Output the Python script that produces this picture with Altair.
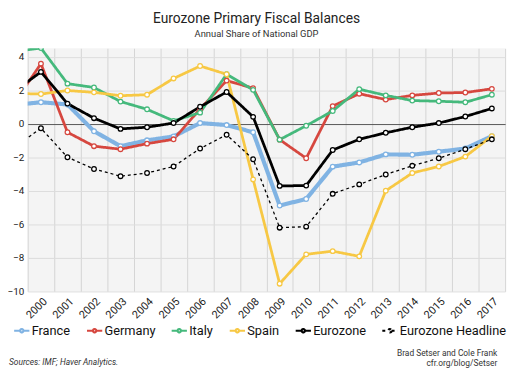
import altair as alt
import pandas as pd

years = list(range(1999, 2018))
series = ["France", "Germany", "Italy", "Spain", "Eurozone", "Eurozone Headline"]
colors = ["#80b3e3", "#d6473f", "#45b97c", "#f7c844", "#000000", "#000000"]
dashes = [[1, 0], [1, 0], [1, 0], [1, 0], [1, 0], [3, 3]]

france = [1.12, 1.28, 1.15, -0.45, -1.34, -0.99, -0.76, 0.04, -0.08, -0.51,
          -4.88, -4.49, -2.56, -2.31, -1.83, -1.85, -1.67, -1.48, -0.74]
germany = [1.24, 3.58, -0.51, -1.34, -1.52, -1.19, -0.93, 0.88, 2.57, 2.12,
           -0.95, -2.06, 1.05, 1.79, 1.44, 1.69, 1.83, 1.86, 2.08]
italy = [4.31, 4.51, 2.39, 2.16, 1.32, 0.86, 0.17, 0.66, 2.95, 2.02,
         -0.95, -0.12, 0.76, 2.06, 1.69, 1.38, 1.34, 1.28, 1.73]
spain = [1.81, 1.77, 1.98, 1.87, 1.67, 1.73, 2.70, 3.44, 2.95, -3.32,
         -9.54, -7.79, -7.60, -7.91, -4.00, -2.94, -2.55, -1.96, -0.74]
eurozone = [1.93, 3.09, 1.20, 0.33, -0.31, -0.21, 0.04, 1.01, 1.89, 0.41,
            -3.71, -3.69, -1.57, -0.93, -0.54, -0.21, 0.04, 0.43, 0.91]
headline = [-1.41, -0.27, -2.00, -2.70, -3.13, -2.94, -2.55, -1.48, -0.66, -2.12,
            -6.20, -6.14, -4.18, -3.62, -3.03, -2.51, -2.06, -1.52, -0.93]

values = [france, germany, italy, spain, eurozone, headline]
rows = []
for name, vals in zip(series, values):
    for y, v in zip(years, vals):
        rows.append({"year": y, "value": v, "series": name})
df = pd.DataFrame(rows)

grid_values = [y + 0.5 for y in range(1999, 2018)] + list(range(2000, 2018))

FONT = "Roboto"

x = alt.X("year:Q",
          scale=alt.Scale(domain=[1999.5, 2017.5], nice=False, zero=False),
          axis=alt.Axis(values=grid_values, title=None, ticks=False, domain=False,
                        labelExpr="datum.value % 1 === 0 ? format(datum.value, 'd') : ''",
                        labelAngle=-45, labelFontSize=11, labelColor="#222",
                        labelOverlap=False, labelPadding=4, labelFont=FONT,
                        gridColor="#d4d4d4",
                        gridOpacity=alt.condition("datum.value % 1 === 0", alt.value(0), alt.value(1))))
y = alt.Y("value:Q",
          scale=alt.Scale(domain=[-10, 4.5], nice=False, zero=False),
          axis=alt.Axis(values=list(range(-10, 5, 2)), title=None, ticks=False, domain=False,
                        labelFontSize=10, labelColor="#222", labelPadding=4, labelFont=FONT,
                        gridColor=alt.condition("datum.value === 0", alt.value("#555555"), alt.value("#dcdcdc"))))

symbol_path = ("M-1,0L-0.22,0M0.22,0L1,0M0.22,0A0.22,0.22,0,1,1,-0.22,0"
               "A0.22,0.22,0,1,1,0.22,0")

legend = alt.Legend(title=None, orient="none", direction="horizontal",
                    columns=6, legendX=-15, legendY=278,
                    symbolType=symbol_path, symbolSize=240,
                    symbolStrokeWidth=2.2, symbolFillColor="white",
                    labelFontSize=13, labelFont=FONT, labelColor="#111",
                    labelOffset=1, columnPadding=11, padding=0, labelLimit=200)

color = alt.Color("series:N", scale=alt.Scale(domain=series, range=colors), legend=legend)
dash = alt.StrokeDash("series:N", scale=alt.Scale(domain=series, range=dashes), legend=legend)

base = alt.Chart(df)

line_fr = base.transform_filter("datum.series === 'France'").mark_line(
    clip=True, strokeWidth=4.2).encode(x=x, y=y, color=color, strokeDash=dash)
line_mid = base.transform_filter(
    "datum.series !== 'France' && datum.series !== 'Eurozone Headline'").mark_line(
    clip=True, strokeWidth=2.8).encode(x=x, y=y, color=color, strokeDash=dash)
line_hd = base.transform_filter("datum.series === 'Eurozone Headline'").mark_line(
    clip=True, strokeWidth=1.3).encode(x=x, y=y, color=color, strokeDash=dash)

points = base.mark_point(clip=True, filled=True, fill="white", size=22,
                         strokeWidth=1.3, opacity=1).encode(
    x=x, y=y, stroke=alt.Stroke("series:N", scale=alt.Scale(domain=series, range=colors), legend=None))

sources = alt.Chart(pd.DataFrame({"t": ["Sources: IMF; Haver Analytics."]})).mark_text(
    align="left", baseline="alphabetic", fontSize=8.5, fontStyle="italic", font=FONT, color="#333"
).encode(text="t:N", x=alt.value(-19), y=alt.value(322))

credits2 = alt.Chart(pd.DataFrame({"t": ["cfr.org/blog/Setser"]})).mark_text(
    align="right", baseline="alphabetic", fontSize=8.5, font=FONT, color="#333"
).encode(text="t:N", x=alt.value(477), y=alt.value(323))

credits1 = alt.Chart(pd.DataFrame({"t": ["Brad Setser and Cole Frank"]})).mark_text(
    align="right", baseline="alphabetic", fontSize=8.5, font=FONT, color="#333"
).encode(text="t:N", x=alt.value(477), y=alt.value(313))

chart = alt.layer(line_fr, line_mid, line_hd, points, sources, credits1, credits2).resolve_scale(
    stroke="independent"
).properties(
    width=485, height=247,
    autosize=alt.AutoSizeParams(type="none"),
    padding={"left": 20, "top": 38, "right": 7, "bottom": 80},
    title=alt.TitleParams("Eurozone Primary Fiscal Balances",
                          subtitle="Annual Share of National GDP",
                          anchor="middle", frame="group", dx=-10, offset=10,
                          fontSize=14, font=FONT, fontWeight="normal", color="#222",
                          subtitleFontSize=9.5, subtitleFont=FONT, subtitleColor="#333",
                          subtitlePadding=3),
).configure_view(fill="#f4f4f4", stroke=None)

chart.save("out.html", embed_options={"renderer": "svg", "actions": False})
